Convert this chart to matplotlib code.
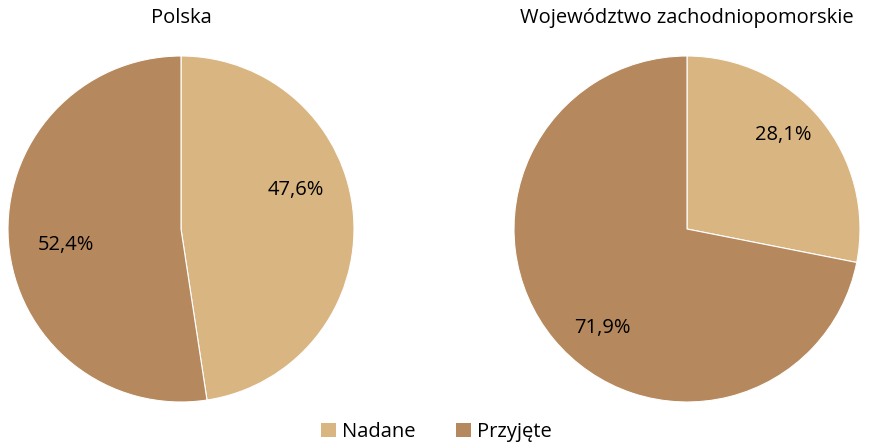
import matplotlib
matplotlib.use("Agg")
import matplotlib.pyplot as plt
from matplotlib.patches import Patch

plt.rcParams['font.family'] = ['Open Sans', 'DejaVu Sans']

categories = ["Nadane", "Przyjęte"]
titles = ["Polska", "Województwo zachodniopomorskie"]
polska = [47.6, 52.4]
zachodniopomorskie = [28.1, 71.9]
series = [polska, zachodniopomorskie]
colors = ["#D9B581", "#B5885D"]
# label positions (in units of pie radius)
label_pos = [[(0.665, 0.225), (-0.665, -0.092)],
             [(0.555, 0.543), (-0.491, -0.572)]]

fig = plt.figure(figsize=(8.71, 4.46), dpi=100)
rects = [[8/871, 44/446, 346/871, 346/446], [514/871, 44/446, 346/871, 346/446]]

FS = 14.5
for rect, vals, title, lp in zip(rects, series, titles, label_pos):
    ax = fig.add_axes(rect)
    wedges, _ = ax.pie(vals, colors=colors, startangle=90, counterclock=False,
                       wedgeprops=dict(edgecolor="white", linewidth=0.8))
    for v, (x, y) in zip(vals, lp):
        ax.text(x, y, f"{v:.1f}%".replace(".", ","), ha="center", va="center",
                fontsize=FS, color="#000000")
    ax.set_xlim(-1, 1)
    ax.set_ylim(-1, 1)
    ax.set_aspect('auto')
    fig.text(rect[0] + rect[2] / 2, 1 - 18 / 446, title, ha="center", va="center",
             fontsize=FS)

handles = [Patch(facecolor=c, edgecolor="none") for c in colors]
fig.legend(handles, categories, loc="center", bbox_to_anchor=(436 / 871, 1 - 432 / 446),
           ncol=2, frameon=False, fontsize=FS, handlelength=0.75, handleheight=0.75,
           handletextpad=0.3, columnspacing=2.0, borderpad=0)

fig.savefig("out.png", dpi=100)
